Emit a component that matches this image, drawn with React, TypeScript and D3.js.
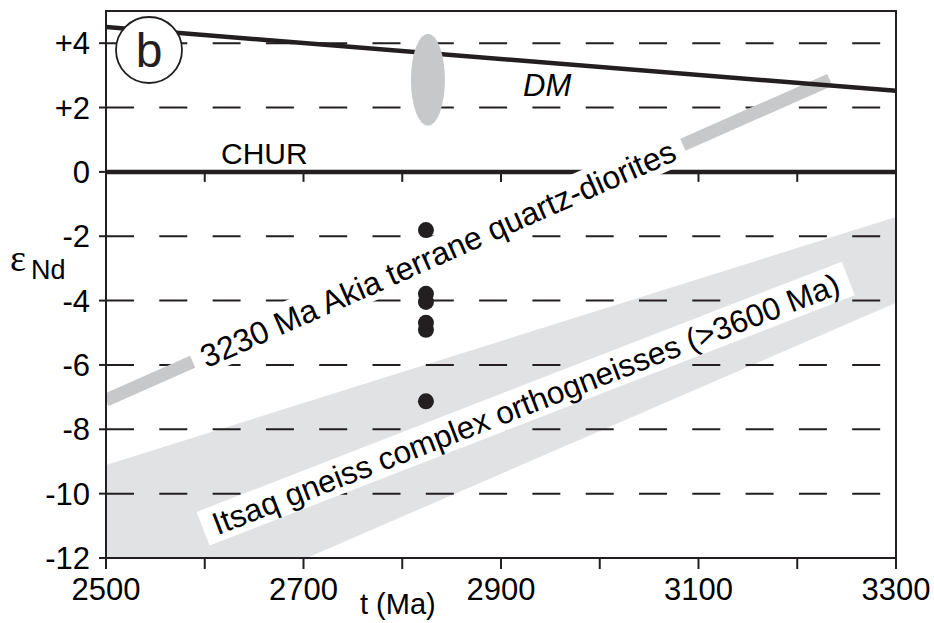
import * as d3 from "d3";

const W = 934;
const H = 623;
const PLOT = { left: 106, right: 896, top: 11, bottom: 558 };

const X_TICKS = [2500, 2600, 2700, 2800, 2900, 3000, 3100, 3200, 3300];
const X_LABELS = [2500, 2700, 2900, 3100, 3300];
const CHUR_TICKS = [2600, 2700, 2800, 2900, 3000, 3100, 3200];
const Y_TICKS = [-12, -10, -8, -6, -4, -2, 0, 2, 4];
const Y_LABELS = ["-12", "-10", "-8", "-6", "-4", "-2", "0", "+2", "+4"];
const GRID_LINES = [-10, -8, -6, -4, -2, 2, 4];

// model curves (t in Ma, eps Nd)
const DM_LINE = [
  { t: 2500, e: 4.5 },
  { t: 3300, e: 2.52 },
];
const CHUR_LINE = [
  { t: 2500, e: 0 },
  { t: 3300, e: 0 },
];
const AKIA_BAND = [
  { t: 2500, e: -7.09 },
  { t: 3233, e: 2.86 },
];
const ITSAQ_UPPER = [
  { t: 2500, e: -9.11 },
  { t: 3300, e: -1.4 },
];
const ITSAQ_LOWER = [
  { t: 2500, e: -14.7 },
  { t: 3300, e: -4.07 },
];

// samples
const SAMPLE_T = 2824;
const SAMPLE_EPS = [-1.81, -3.79, -4.04, -4.69, -4.91, -7.13];
const ELLIPSE = { t: 2826, e: 2.86, dt: 17.2, de: 1.43 };

const INK = "#231f20";
const FONT = "'Liberation Sans', Arial, Helvetica, sans-serif";

export default function App() {
  const x = d3.scaleLinear().domain([2500, 3300]).range([PLOT.left, PLOT.right]);
  const y = d3.scaleLinear().domain([-12, 5]).range([PLOT.bottom, PLOT.top]);

  const line = d3
    .line<{ t: number; e: number }>()
    .x((d) => x(d.t))
    .y((d) => y(d.e));

  const bandArea = d3
    .area<{ t: number; lo: number; hi: number }>()
    .x((d) => x(d.t))
    .y0((d) => y(d.lo))
    .y1((d) => y(d.hi));
  const itsaq = ITSAQ_UPPER.map((d, i) => ({ t: d.t, hi: d.e, lo: ITSAQ_LOWER[i].e }));

  // label sits along the Akia band
  const ax0 = x(AKIA_BAND[0].t), ay0 = y(AKIA_BAND[0].e);
  const ax1 = x(AKIA_BAND[1].t), ay1 = y(AKIA_BAND[1].e);
  const akiaAngle = (Math.atan2(ay1 - ay0, ax1 - ax0) * 180) / Math.PI;
  const akiaT = 2836;
  const akiaE =
    AKIA_BAND[0].e +
    ((akiaT - AKIA_BAND[0].t) * (AKIA_BAND[1].e - AKIA_BAND[0].e)) / (AKIA_BAND[1].t - AKIA_BAND[0].t);
  const itsaqT = 2925;
  const itsaqE = -7.2;
  const itsaqAngle = -21.2;

  const label = (cx: number, cy: number, angle: number, len: number, size: number, text: string) => (
    <g transform={`translate(${cx},${cy}) rotate(${angle})`}>
      <rect x={-len / 2} y={-18} width={len} height={36} fill="white" />
      <text x={0} y={size * 0.36} textAnchor="middle" fontSize={size} fill="black" fontFamily={FONT}>
        {text}
      </text>
    </g>
  );

  return (
    <svg width={W} height={H} style={{ position: "absolute", left: 0, top: 0 }}>
      <defs>
        <clipPath id="plot">
          <rect x={PLOT.left} y={PLOT.top} width={PLOT.right - PLOT.left} height={PLOT.bottom - PLOT.top} />
        </clipPath>
      </defs>
      <rect width={W} height={H} fill="white" />

      <g clipPath="url(#plot)">
        <path d={bandArea(itsaq) || ""} fill="#e1e2e4" />
        {GRID_LINES.map((v) => (
          <line key={v} x1={PLOT.left} x2={PLOT.right - 10} y1={y(v)} y2={y(v)} stroke={INK} strokeWidth={2} strokeDasharray="28 25.3" />
        ))}
        <path d={line(AKIA_BAND) || ""} stroke="#c7c8ca" strokeWidth={13} fill="none" />
        <path d={line(DM_LINE) || ""} stroke={INK} strokeWidth={4.5} fill="none" />
        <path d={line(CHUR_LINE) || ""} stroke={INK} strokeWidth={4.5} fill="none" />
        {CHUR_TICKS.map((t) => (
          <line key={t} x1={x(t)} x2={x(t)} y1={y(0)} y2={y(0) + 10} stroke={INK} strokeWidth={2} />
        ))}
        <ellipse
          cx={x(ELLIPSE.t)}
          cy={y(ELLIPSE.e)}
          rx={x(ELLIPSE.t + ELLIPSE.dt) - x(ELLIPSE.t)}
          ry={y(ELLIPSE.e - ELLIPSE.de) - y(ELLIPSE.e)}
          fill="#c7c8ca"
        />
        {label(x(akiaT), y(akiaE), akiaAngle, 536, 32, "3230 Ma Akia terrane quartz-diorites")}
        {label(x(itsaqT), y(itsaqE), itsaqAngle, 692, 31.5, "Itsaq gneiss complex orthogneisses (>3600 Ma)")}
        {SAMPLE_EPS.map((e, i) => (
          <circle key={i} cx={x(SAMPLE_T)} cy={y(e)} r={8} fill={INK} />
        ))}
      </g>

      <rect x={PLOT.left} y={PLOT.top} width={PLOT.right - PLOT.left} height={PLOT.bottom - PLOT.top} fill="none" stroke={INK} strokeWidth={2} />

      {X_TICKS.map((t) => (
        <line key={t} x1={x(t)} x2={x(t)} y1={PLOT.bottom} y2={PLOT.bottom + 11} stroke={INK} strokeWidth={2} />
      ))}
      {X_LABELS.map((t) => (
        <text key={t} x={x(t)} y={600} textAnchor="middle" fontSize={31} fontFamily={FONT} fill="black">
          {t}
        </text>
      ))}
      {Y_TICKS.map((v, i) => (
        <g key={v}>
          <line x1={PLOT.left - 7} x2={PLOT.left} y1={y(v)} y2={y(v)} stroke={INK} strokeWidth={2} />
          <text x={90} y={y(v) + 11} textAnchor="end" fontSize={31} fontFamily={FONT} fill="black">
            {Y_LABELS[i]}
          </text>
        </g>
      ))}

      <circle cx={149} cy={50} r={33} fill="white" stroke={INK} strokeWidth={1.8} />
      <text x={149} y={67} textAnchor="middle" fontSize={48} fontFamily={FONT} fill={INK}>
        b
      </text>
      <text x={221} y={164} fontSize={30} fontFamily={FONT} fill="black">
        CHUR
      </text>
      <text x={523} y={96} fontSize={31} fontStyle="italic" fontFamily={FONT} fill="black">
        DM
      </text>

      <text x={10} y={271} fontSize={38} fontFamily="'Liberation Serif', 'DejaVu Serif', serif" fill="black">
        ε
      </text>
      <text x={31} y={279} fontSize={27} fontFamily={FONT} fill="black">
        Nd
      </text>
      <text x={360} y={614} fontSize={29} fontFamily={FONT} fill="black">
        t (Ma)
      </text>
    </svg>
  );
}
